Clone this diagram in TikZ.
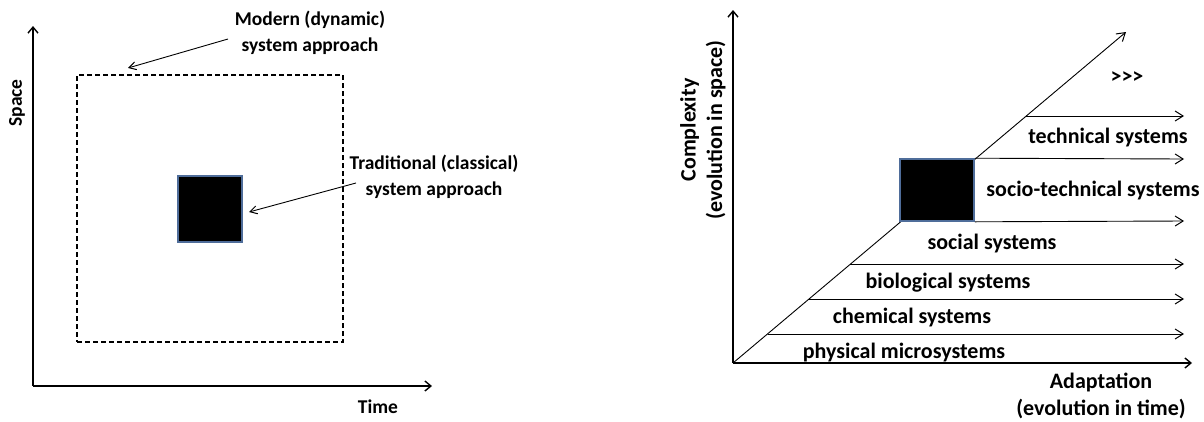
\documentclass[tikz,border=0pt]{standalone}
\usepackage{fontspec}
\setmainfont{Carlito}
\usetikzlibrary{arrows.meta}
\definecolor{boxedge}{HTML}{4F6D9A}
\begin{document}
\begin{tikzpicture}[x=1pt,y=-1pt,
  lbl/.style={font=\fontsize{19.5}{26}\selectfont\bfseries, inner sep=0pt, align=center},
  biglbl/.style={font=\fontsize{22}{26.5}\selectfont\bfseries, inner sep=0pt, align=center},
  axis/.style={line width=1.9pt, -{Straight Barb[length=6pt,width=10pt,line width=1.4pt]}},
  thinarrow/.style={line width=0.9pt, -{Straight Barb[length=8pt,width=10pt,line width=1pt]}},
  pointer/.style={line width=0.9pt, -{Straight Barb[length=7pt,width=8pt,line width=1pt]}},
  blackbox/.style={fill=black, draw=boxedge, line width=1.6pt, inner sep=0pt}]
\useasboundingbox[fill=white] (0,0) rectangle (1204,421);

% ---------- left panel: space / time ----------
\coordinate (o1) at (33,386);
\coordinate (y1) at (33,26);
\coordinate (x1) at (432,386);
\draw[axis] (o1) -- (y1);
\draw[axis] (o1) -- (x1);
\node[lbl, rotate=90] (space) at (17,103) {Space};
\node[lbl] (time) at (378,407) {Time};

\node[draw, dash pattern=on 5pt off 3pt, line width=1.6pt, minimum width=266pt, minimum height=267pt, inner sep=0pt] (modern) at (210,208.5) {};
\node[blackbox, minimum width=64pt, minimum height=66pt] (trad) at (210,209) {};

\node[lbl] (modernlbl) at (310,33) {Modern (dynamic)\\system approach};
\node[lbl] (tradlbl) at (434,177) {Traditional (classical)\\system approach};
\coordinate (mstart) at (228,39);
\coordinate (mend) at (128,68);
\coordinate (tstart) at (356,183);
\coordinate (tend) at (249,212);
\draw[pointer] (mstart) -- (mend);
\draw[pointer] (tstart) -- (tend);

% ---------- right panel: complexity / adaptation ----------
\coordinate (o2) at (733,363);
\coordinate (y2) at (733,10);
\coordinate (x2) at (1192,363);
\coordinate (d2) at (1126,32);
\draw[axis] (o2) -- (y2);
\draw[axis] (o2) -- (x2);
\draw[thinarrow] (o2) -- (d2);

\node[blackbox, minimum width=74pt, minimum height=62pt] (sts) at (937,190) {};

% levels branching off the diagonal
\coordinate (a1) at (768,334);
\coordinate (a2) at (808,299);
\coordinate (a3) at (850,264);
\coordinate (a6) at (1026,116);
\coordinate (e1) at (1184,334);
\coordinate (e2) at (1184,299);
\coordinate (e3) at (1184,264);
\coordinate (e4) at (1184,221);
\coordinate (e5) at (1184,159);
\coordinate (e6) at (1184,116);
\draw[thinarrow] (a1) -- (e1);
\draw[thinarrow] (a2) -- (e2);
\draw[thinarrow] (a3) -- (e3);
\draw[thinarrow] (sts.south east) -- (e4);
\draw[thinarrow] (sts.north east) -- (e5);
\draw[thinarrow] (a6) -- (e6);

\node[biglbl] (phys) at (904,353) {physical microsystems};
\node[biglbl] (chem) at (912,318) {chemical systems};
\node[biglbl] (bio) at (948,283) {biological systems};
\node[biglbl] (soc) at (992,244) {social systems};
\node[biglbl] (socio) at (1093,191) {socio-technical systems};
\node[biglbl] (tech) at (1108,138) {technical systems};
\node[biglbl] (more) at (1127,78) {>{}>{}>};

\node[biglbl] (adapt) at (1101,396) {Adaptation\\(evolution in time)};
\node[biglbl, rotate=90] (compl) at (703,130) {Complexity\\(evolution in space)};
\end{tikzpicture}
\end{document}
